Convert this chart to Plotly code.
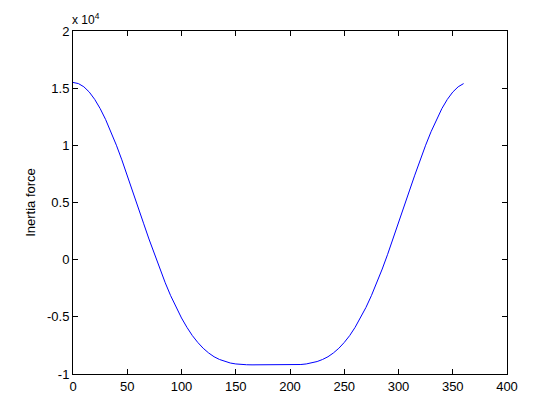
import plotly.graph_objects as go

# crank angle (degrees)
angle_deg = [0, 5, 10, 15, 20, 25, 30, 35, 40, 45, 50, 55, 60, 65, 70, 75, 80, 85, 90,
             95, 100, 105, 110, 115, 120, 125, 130, 135, 140, 145, 150, 155, 160, 165, 170, 175, 180,
             185, 190, 195, 200, 205, 210, 215, 220, 225, 230, 235, 240, 245, 250, 255, 260, 265, 270,
             275, 280, 285, 290, 295, 300, 305, 310, 315, 320, 325, 330, 335, 340, 345, 350, 355, 360]

# inertia force (N)
inertia_force = [15500, 15400, 15120, 14660, 14020, 13220, 12270, 11190, 10010, 8730, 7390, 6010, 4600, 3190, 1810, 470, -820, -2020, -3150,
                 -4180, -5100, -5920, -6640, -7240, -7750, -8160, -8490, -8730, -8910, -9040, -9120, -9170, -9190, -9200, -9200, -9200, -9200,
                 -9200, -9200, -9200, -9200, -9190, -9170, -9120, -9040, -8910, -8730, -8490, -8160, -7750, -7240, -6640, -5920, -5100, -4180,
                 -3150, -2020, -820, 470, 1810, 3190, 4600, 6010, 7390, 8730, 10010, 11190, 12270, 13220, 14020, 14660, 15120, 15400, 15500]

x_ticks = [0, 50, 100, 150, 200, 250, 300, 350, 400]
y_ticks = [-1, -0.5, 0, 0.5, 1, 1.5, 2]
y_tick_labels = ["-1", "-0.5", "0", "0.5", "1", "1.5", "2"]
scale = 1e4

fig = go.Figure()
fig.add_trace(go.Scatter(
    x=angle_deg,
    y=[v / scale for v in inertia_force],
    mode="lines",
    line=dict(color="rgb(0,0,255)", width=1),
    showlegend=False,
))

axis_common = dict(
    showgrid=False, zeroline=False,
    showline=True, linecolor="black", linewidth=1, mirror="allticks",
    ticks="inside", ticklen=5, tickcolor="black", tickwidth=1,
    tickfont=dict(family="Liberation Sans, Arial, sans-serif", size=13, color="black"),
)

fig.update_xaxes(range=[0, 400], tickvals=x_ticks, **axis_common)
fig.update_yaxes(range=[-1, 2], tickvals=y_ticks, ticktext=y_tick_labels,
                 title=dict(text="Inertia force", standoff=8,
                            font=dict(family="Liberation Sans, Arial, sans-serif", size=13, color="black")),
                 **axis_common)

fig.add_annotation(
    x=0, y=1, xref="paper", yref="paper", xanchor="left", yanchor="bottom",
    text="x 10<sup>4</sup>", showarrow=False, yshift=2, xshift=-3,
    font=dict(family="Liberation Sans, Arial, sans-serif", size=12, color="black"),
)

fig.update_layout(
    width=560, height=420,
    margin=dict(l=73, r=53, t=31, b=46),
    paper_bgcolor="white", plot_bgcolor="white",
)

fig.write_html("out.html", config={"displayModeBar": False},
               post_script="document.body.style.margin='0px';")
